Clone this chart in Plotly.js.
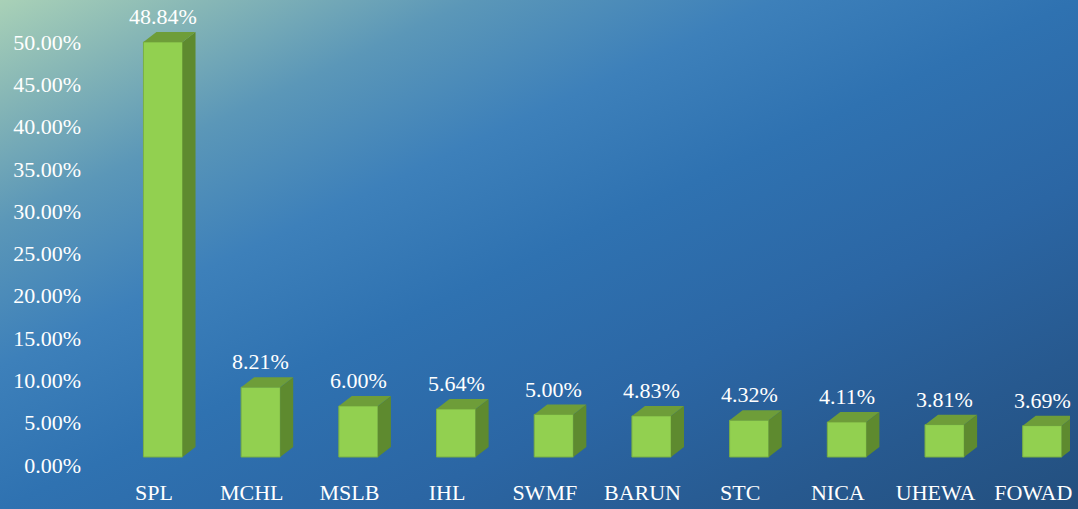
<!DOCTYPE html>
<html>
<head>
<meta charset="utf-8">
<script src="https://cdn.plot.ly/plotly-3.0.1.min.js"></script>
<style>
  html, body { margin: 0; padding: 0; }
  #bg {
    width: 1078px; height: 509px;
    background: linear-gradient(to bottom right,
      #a9d1b7 0%, #86b6b6 10%, #5b97b8 22%, #3d80ba 36%, #2f72b1 50%,
      #2b66a4 68%, #27598f 85%, #234f7e 100%);
  }
  #chart { width: 1078px; height: 509px; }
</style>
</head>
<body>
<div id="bg"><div id="chart"></div></div>
<script>
// ---- data ----
const categories = ["SPL", "MCHL", "MSLB", "IHL", "SWMF", "BARUN", "STC", "NICA", "UHEWA", "FOWAD"];
const values = [48.84, 8.21, 6.00, 5.64, 5.00, 4.83, 4.32, 4.11, 3.81, 3.69];
const yTickVals = [0, 5, 10, 15, 20, 25, 30, 35, 40, 45, 50];

// ---- layout geometry ----
const W = 1078, H = 509;
const M = { l: 90, r: 8, t: 10, b: 44 };
const xRange = [-0.747, 9.284];
const yRange = [0, 53.78];
const y2Range = [-0.94, 52.61];
const plotW = W - M.l - M.r, plotH = H - M.t - M.b;
const pxPerX = plotW / (xRange[1] - xRange[0]);
const pxPerY2 = plotH / (y2Range[1] - y2Range[0]);
const labelShift = 9 / pxPerX;          // category labels sit slightly left of the bar fronts
const x2Range = [xRange[0] + labelShift, xRange[1] + labelShift];

const barW = 0.40;
const dx = 13 / pxPerX;    // depth offset in x units
const dy = 10 / pxPerY2;   // depth offset in y2 units

const xIdx = categories.map((_, i) => i);

// side and top faces built from values
const sideX = [], sideY = [], topX = [], topY = [];
values.forEach((v, i) => {
  const xl = i - barW / 2, xr = i + barW / 2;
  sideX.push(xr, xr + dx, xr + dx, xr, xr, null);
  sideY.push(0, dy, v + dy, v, 0, null);
  topX.push(xl, xl + dx, xr + dx, xr, xl, null);
  topY.push(v, v + dy, v + dy, v, v, null);
});

const font = { family: "Liberation Serif", size: 22, color: "#ffffff" };

const traces = [
  {
    type: "scatter", x: sideX, y: sideY, yaxis: "y2", mode: "lines",
    fill: "toself", fillcolor: "#5e8a2f", line: { width: 0, color: "#5e8a2f" },
    hoverinfo: "skip", showlegend: false
  },
  {
    type: "scatter", x: topX, y: topY, yaxis: "y2", mode: "lines",
    fill: "toself", fillcolor: "#6e9d39", line: { width: 0, color: "#6e9d39" },
    hoverinfo: "skip", showlegend: false
  },
  {
    type: "bar", x: xIdx, y: values, yaxis: "y2", width: barW,
    marker: { color: "#92d050", line: { color: "#7ab043", width: 1 } },
    showlegend: false, hoverinfo: "x+y"
  },
  {
    type: "scatter", x: [x2Range[0]], y: [0], xaxis: "x2", yaxis: "y", mode: "markers",
    marker: { opacity: 0 }, hoverinfo: "skip", showlegend: false
  }
];

const annotations = values.map((v, i) => ({
  x: i, y: v, xref: "x", yref: "y2",
  text: v.toFixed(2) + "%", showarrow: false,
  yanchor: "bottom", yshift: 11, font: font
}));

const layout = {
  width: W, height: H,
  margin: M,
  font: { family: "Liberation Serif", color: "#ffffff" },
  paper_bgcolor: "rgba(0,0,0,0)",
  plot_bgcolor: "rgba(0,0,0,0)",
  showlegend: false,
  xaxis: {
    range: xRange, visible: false, fixedrange: true
  },
  xaxis2: {
    range: x2Range, overlaying: "x", side: "bottom",
    tickvals: xIdx, ticktext: categories,
    showgrid: false, zeroline: false, showline: false, ticks: "",
    tickfont: font, ticklabelstandoff: 12, ticklabeloverflow: "allow",
    fixedrange: true
  },
  yaxis: {
    range: yRange, tickvals: yTickVals,
    ticktext: yTickVals.map(v => v.toFixed(2) + "%"),
    showgrid: false, zeroline: false, showline: false, ticks: "",
    tickfont: font, ticklabelstandoff: 8, fixedrange: true
  },
  yaxis2: {
    range: y2Range, overlaying: "y", visible: false, fixedrange: true
  },
  annotations: annotations
};

Plotly.newPlot("chart", traces, layout, { displayModeBar: false, staticPlot: true });
</script>
</body>
</html>
